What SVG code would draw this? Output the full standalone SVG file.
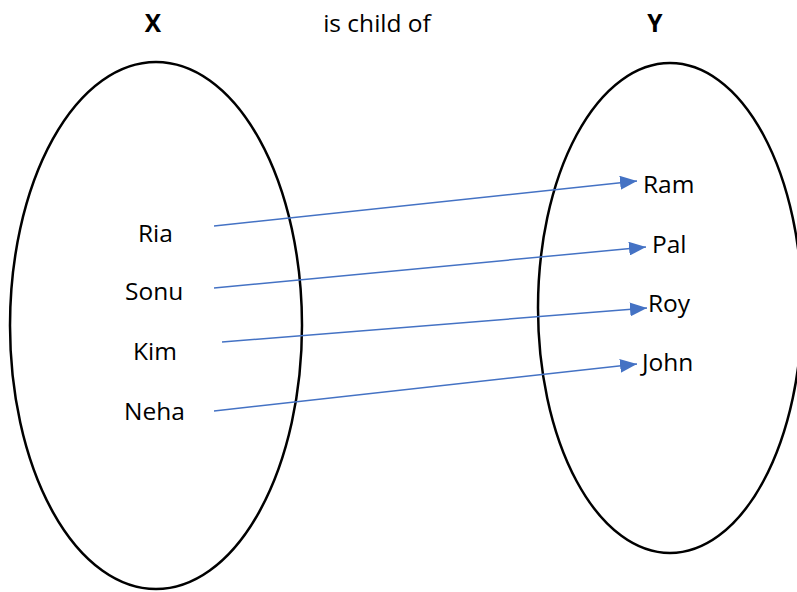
<svg xmlns="http://www.w3.org/2000/svg" width="797" height="592" viewBox="0 0 797 592">
  <defs>
    <style>
      .set { fill: none; stroke: #000; stroke-width: 2.5; }
      .lbl { font-family: "Open Sans", "Liberation Sans", sans-serif; font-size: 24.5px; fill: #000; }
      .head { font-weight: bold; text-anchor: middle; }
      .edge { stroke: #4472C4; stroke-width: 1.5; fill: none; marker-end: url(#tip); }
    </style>
    <marker id="tip" markerUnits="userSpaceOnUse" markerWidth="18" markerHeight="14" refX="17" refY="7" orient="auto">
      <path d="M0,0 L17,7 L0,14 Z" fill="#4472C4"/>
    </marker>
  </defs>
  <rect width="797" height="592" fill="#fff"/>

  <!-- headings -->
  <text class="lbl head" x="153" y="32">X</text>
  <text class="lbl" x="377" y="32" text-anchor="middle" font-size="25.5">is child of</text>
  <text class="lbl head" x="655" y="32">Y</text>

  <!-- set X -->
  <g id="setX">
    <ellipse class="set" cx="156" cy="325.5" rx="146" ry="263.5"/>
    <g id="ria"><text class="lbl" x="138" y="242">Ria</text></g>
    <g id="sonu"><text class="lbl" x="125" y="300">Sonu</text></g>
    <g id="kim"><text class="lbl" x="133" y="360">Kim</text></g>
    <g id="neha"><text class="lbl" x="124" y="420">Neha</text></g>
  </g>

  <!-- set Y -->
  <g id="setY">
    <ellipse class="set" cx="670" cy="308" rx="132" ry="245"/>
    <g id="ram"><text class="lbl" x="643" y="193">Ram</text></g>
    <g id="pal"><text class="lbl" x="652" y="253">Pal</text></g>
    <g id="roy"><text class="lbl" x="648" y="312">Roy</text></g>
    <g id="john"><text class="lbl" x="642" y="371">John</text></g>
  </g>

  <!-- relation arrows -->
  <g id="connectors">
    <line class="edge" x1="214" y1="226" x2="637" y2="181"/>
    <line class="edge" x1="214" y1="288" x2="646" y2="247"/>
    <line class="edge" x1="222" y1="342" x2="647" y2="308"/>
    <line class="edge" x1="214" y1="411" x2="637" y2="364"/>
  </g>
</svg>
